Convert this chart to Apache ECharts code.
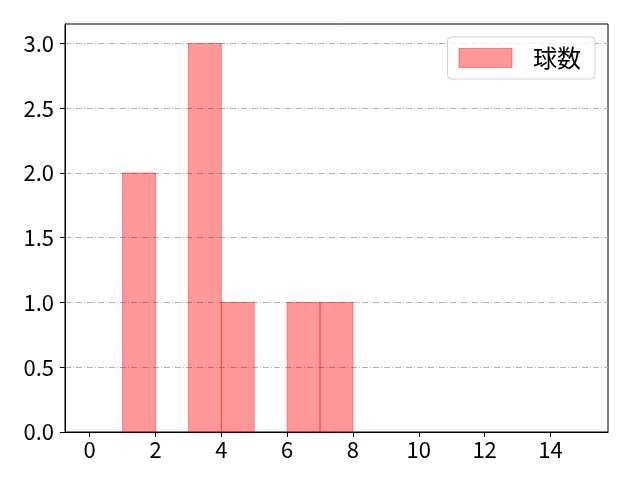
<!DOCTYPE html>
<html><head><meta charset="utf-8">
<script src="https://cdn.jsdelivr.net/npm/echarts@6/dist/echarts.min.js"></script>
<style>html,body{margin:0;padding:0;background:#fff}#c{width:640px;height:480px}</style>
</head><body><div id="c"></div>
<script>
const binStarts = [1, 3, 4, 6, 7];
const binEnds   = [2, 4, 5, 7, 8];
const counts    = [2, 3, 1, 1, 1];
const seriesName = '球数';
const xTicks = [0, 2, 4, 6, 8, 10, 12, 14];
const yTicks = [0, 0.5, 1.0, 1.5, 2.0, 2.5, 3.0];

const data = binStarts.map((s, i) => [s, binEnds[i], counts[i]]);
const font = "'Noto Sans CJK JP', 'DejaVu Sans', sans-serif";
const chart = echarts.init(document.getElementById('c'));
chart.setOption({
  animation: false,
  grid: { left: 65, right: 32, top: 24, bottom: 48, show: true, borderColor: '#000', borderWidth: 1, backgroundColor: 'transparent' },
  legend: {
    show: true, right: 45, top: 37, orient: 'vertical',
    itemWidth: 53, itemHeight: 19, itemGap: 10,
    padding: [9, 14, 9, 11],
    borderColor: '#d0d0d0', borderWidth: 1, borderRadius: 4,
    backgroundColor: 'rgba(255,255,255,0.8)',
    textStyle: { fontFamily: font, fontSize: 24, color: '#000', padding: [0, 0, 0, 16] },
    data: [{ name: seriesName, icon: 'rect', itemStyle: { color: 'rgba(255,0,0,0.4)', borderColor: 'rgba(255,0,0,0.4)', borderWidth: 1 } }]
  },
  xAxis: {
    type: 'value', min: -0.75, max: 15.75,
    axisLine: { show: true, onZero: false, lineStyle: { color: '#000', width: 1 } },
    axisTick: { show: true, inside: false, length: 5, lineStyle: { color: '#000' }, customValues: xTicks },
    axisLabel: { customValues: xTicks, fontFamily: font, fontSize: 22, color: '#000', margin: 7, formatter: v => String(v) },
    splitLine: { show: false }
  },
  yAxis: {
    type: 'value', min: 0, max: 3.15,
    axisLine: { show: true, onZero: false, lineStyle: { color: '#000', width: 1 } },
    axisTick: { show: true, inside: false, length: 5, lineStyle: { color: '#000' }, customValues: yTicks },
    axisLabel: { customValues: yTicks, fontFamily: font, fontSize: 22, color: '#000', margin: 11, formatter: v => v.toFixed(1) },
    splitLine: { show: true, lineStyle: { color: '#b0b0b0', width: 1, type: [6, 2, 1, 2] } }
  },
  series: [{
    name: seriesName, type: 'custom',
    itemStyle: { color: 'rgba(255,0,0,0.4)', borderColor: 'rgba(255,0,0,0.4)' },
    renderItem: function (params, api) {
      const p0 = api.coord([api.value(0), 0]);
      const p1 = api.coord([api.value(1), api.value(2)]);
      return {
        type: 'rect',
        shape: { x: p0[0], y: p1[1], width: p1[0] - p0[0], height: p0[1] - p1[1] },
        style: { fill: 'rgba(255,0,0,0.4)', stroke: 'rgba(255,0,0,0.4)', lineWidth: 1 }
      };
    },
    encode: { x: [0, 1], y: 2 },
    data: data
  }]
});
</script></body></html>
